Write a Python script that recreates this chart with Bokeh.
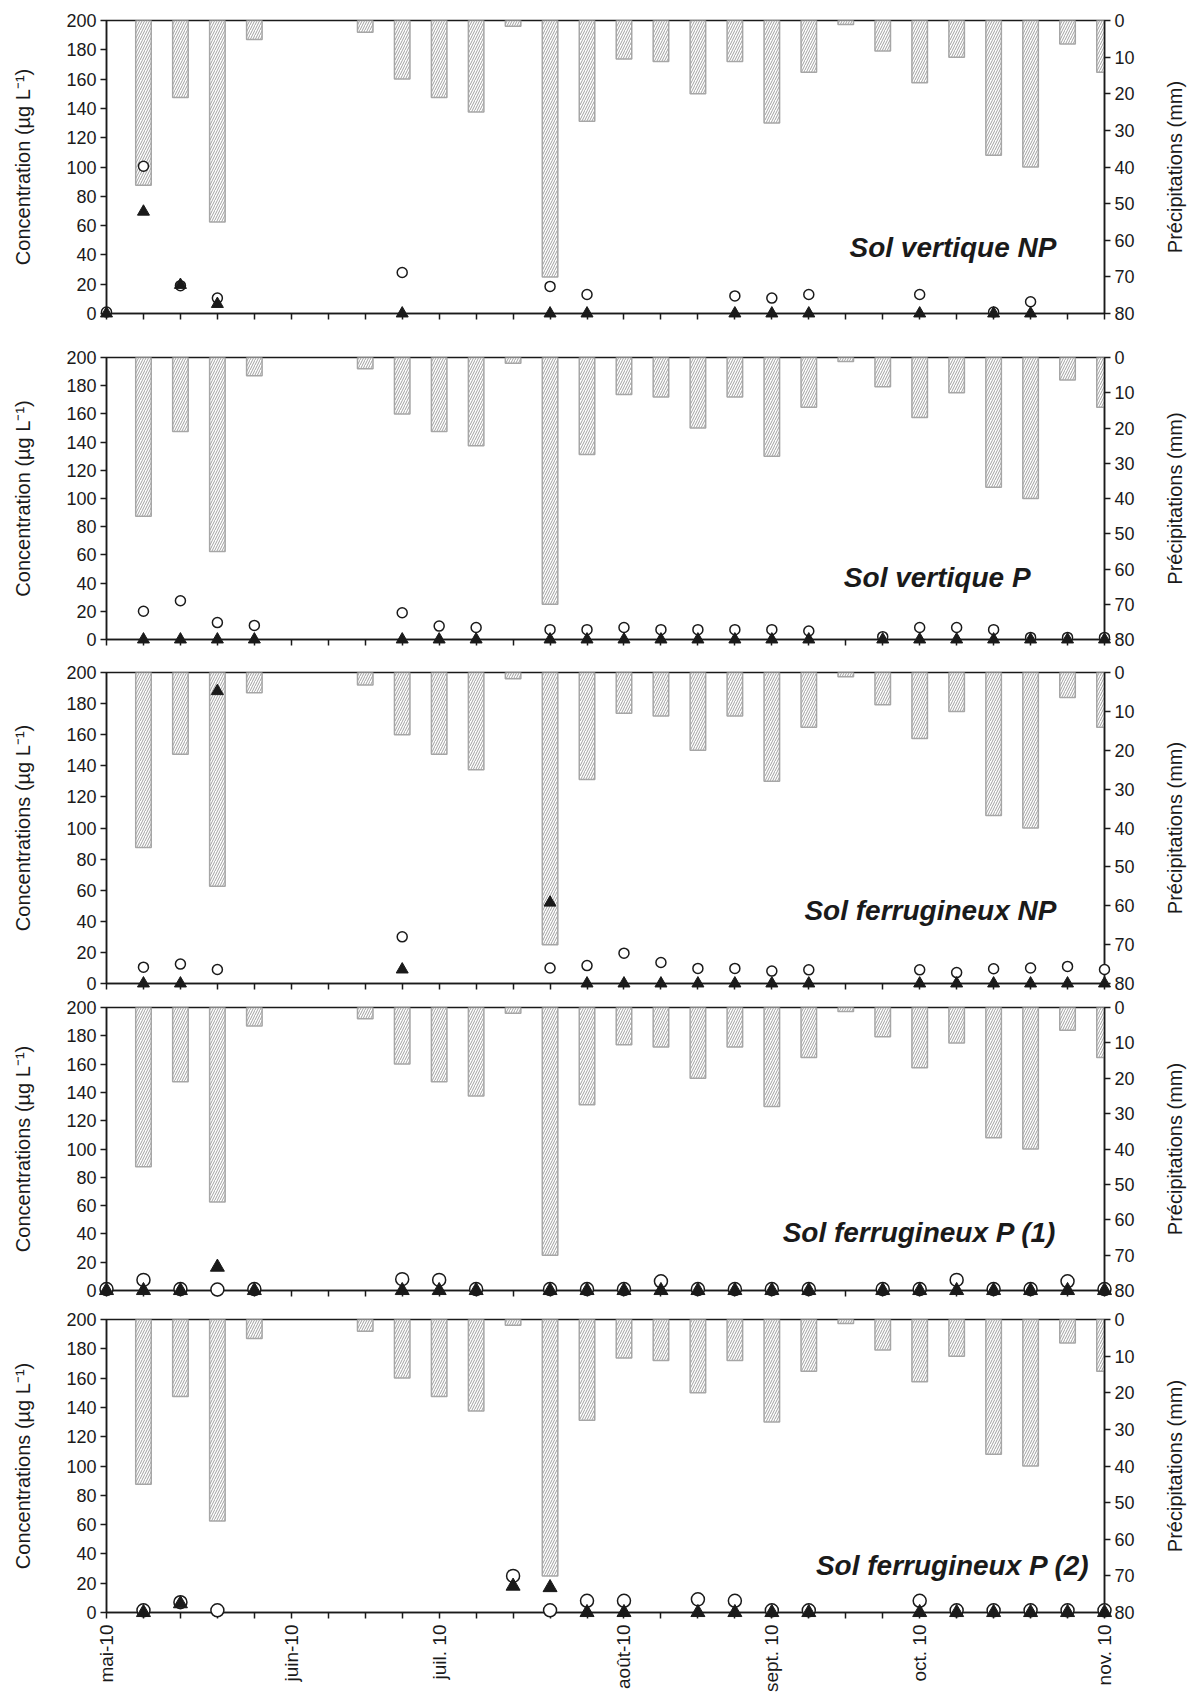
import math
from bokeh.plotting import figure
from bokeh.models import Range1d, LinearAxis, FixedTicker, Label, ColumnDataSource
from bokeh.layouts import column, row
from bokeh.embed import file_html
from bokeh.resources import INLINE

N = None

# ---- data -------------------------------------------------------------
sample_index = list(range(28))
date_labels = {0: "mai-10", 5: "juin-10", 9: "juil. 10", 14: "août-10",
               18: "sept. 10", 22: "oct. 10", 27: "nov. 10"}

precip_mm = [0, 45, 21, 55, 5.2, 0, 0, 3.2, 16, 21, 25, 1.6, 70, 27.5,
             10.5, 11.2, 20, 11.2, 28, 14.1, 1.1, 8.3, 17, 10, 36.8, 40, 6.4, 14.1]

panel_titles = ["Sol vertique NP", "Sol vertique P", "Sol ferrugineux NP",
                "Sol ferrugineux P (1)", "Sol ferrugineux P (2)"]
conc_titles = ["Concentration (µg L⁻¹)", "Concentration (µg L⁻¹)",
               "Concentrations (µg L⁻¹)", "Concentrations (µg L⁻¹)",
               "Concentrations (µg L⁻¹)"]
precip_title = "Précipitations (mm)"

p1_circles = [1, 100.5, 19, 10.5, N, N, N, N, 28, N, N, N, 18.5, 13, N, N, N, 12, 10.5, 13, N, N, 13, N, 1, 8, N, N]
p1_triangles = [0, 69.5, 19.5, 6.5, N, N, N, N, 0, N, N, N, 0, 0, N, N, N, 0, 0, 0, N, N, 0, N, 0, 0, N, N]

p2_circles = [N, 20, 27.5, 12, 10, N, N, N, 19, 9.5, 8.5, N, 7, 7, 8.5, 7, 7, 7, 7, 6, N, 2, 8.5, 8.5, 7, 1.5, 1.5, 1.5]
p2_triangles = [N, 0, 0, 0, 0, N, N, N, 0, 0, 0, N, 0, 0, 0, 0, 0, 0, 0, 0, N, 0, 0, 0, 0, 0, 0, 0]

p3_circles = [N, 10.5, 12.5, 9, N, N, N, N, 30, N, N, N, 10, 11.5, 19.5, 13.5, 9.7, 9.7, 8, 8.8, N, N, 8.8, 7, 9.5, 10, 11, 9]
p3_triangles = [N, 0, 0, 188, N, N, N, N, 9, N, N, N, 52, 0, 0, 0, 0, 0, 0, 0, N, N, 0, 0, 0, 0, 0, 0]

p4_circles = [1, 7.5, 1, 0.7, 1, N, N, N, 8, 7.5, 1, N, 1, 1, 1, 6.5, 1, 1, 1, 1, N, 1, 1, 7.5, 1, 1, 6.5, 1]
p4_triangles = [0, 0, 0, 16.5, 0, N, N, N, 0, 0, 0, N, 0, 0, 0, 0, 0, 0, 0, 0, N, 0, 0, 0, 0, 0, 0, 0]

p5_circles = [N, 1.5, 7, 1.5, N, N, N, N, N, N, N, 25, 1.5, 8, 8, N, 9, 8, 1.5, 1.5, N, N, 8, 1.5, 1.5, 1.5, 1.5, 1.5]
p5_triangles = [N, 0, 6, N, N, N, N, N, N, N, N, 18, 17, 0, 0, N, 0, 0, 0, 0, N, N, 0, 0, 0, 0, 0, 0]

circles_all = [p1_circles, p2_circles, p3_circles, p4_circles, p5_circles]
triangles_all = [p1_triangles, p2_triangles, p3_triangles, p4_triangles, p5_triangles]

# ---- layout / style ---------------------------------------------------
FONT = "Liberation Sans"
INK = "#1a1a1a"
frame_heights = [293, 282, 311, 283, 293]
border_top = [20, 22, 16, 12, 15]
border_bottom = [22, 17, 12, 14, 76]
label_pos = [(25.7, 45), (25.0, 44), (25.7, 47), (25.7, 41), (26.6, 32)]
circle_size = [10, 10, 10, 13, 13]
tri_size = [12, 12, 12, 14, 14]


def pick(values):
    xs, ys = [], []
    for i, v in zip(sample_index, values):
        if v is not None:
            xs.append(i)
            ys.append(v)
    return ColumnDataSource(dict(x=xs, y=ys))


def style_axis(ax, size="18px"):
    ax.axis_line_color = INK
    ax.axis_line_width = 1.5
    ax.major_tick_line_color = INK
    ax.major_tick_line_width = 1.5
    ax.major_tick_out = 6
    ax.major_tick_in = 0
    ax.minor_tick_line_color = None
    ax.major_label_text_font = FONT
    ax.major_label_text_font_size = size
    ax.major_label_text_color = INK
    ax.axis_label_text_font = FONT
    ax.axis_label_text_font_size = "20px"
    ax.axis_label_text_font_style = "normal"
    ax.axis_label_text_color = INK


rows = []
for k in range(5):
    last = (k == 4)
    p = figure(frame_width=998, frame_height=frame_heights[k],
               x_range=Range1d(0, 27), y_range=Range1d(0, 200),
               output_backend="svg", toolbar_location=None,
               min_border_left=106, min_border_right=50,
               min_border_top=border_top[k], min_border_bottom=border_bottom[k])
    p.extra_y_ranges = {"precip": Range1d(80, 0)}
    p.grid.visible = False
    p.background_fill_color = "white"
    p.border_fill_color = "white"
    p.outline_line_color = INK
    p.outline_line_width = 1.5

    # left axis
    yax = p.yaxis[0]
    yax.ticker = FixedTicker(ticks=list(range(0, 201, 20)))
    yax.axis_label = conc_titles[k]
    yax.axis_label_standoff = 29
    yax.major_label_standoff = 4
    style_axis(yax)

    # right axis
    rax = LinearAxis(y_range_name="precip",
                     ticker=FixedTicker(ticks=list(range(0, 81, 10))))
    style_axis(rax)
    rax.major_label_standoff = 4
    p.add_layout(rax, "right")

    # bottom axis
    xax = p.xaxis[0]
    xax.ticker = FixedTicker(ticks=sample_index)
    style_axis(xax)
    if last:
        xax.major_label_overrides = {i: date_labels.get(i, "") for i in sample_index}
        xax.major_label_orientation = math.pi / 2
        xax.major_label_standoff = 6
        xax.major_label_text_font_size = "19px"
    else:
        xax.major_label_overrides = {i: "" for i in sample_index}
        xax.major_label_text_font_size = "0px"
        xax.major_label_standoff = 0

    # precipitation bars hanging from the top
    bx = [i for i, v in zip(sample_index, precip_mm) if v > 0]
    bv = [v for v in precip_mm if v > 0]
    p.vbar(x=bx, top=[0] * len(bx), bottom=bv, width=0.42,
           y_range_name="precip", fill_color="white",
           line_color="#a6a6a6", line_width=1.5,
           hatch_pattern="/", hatch_color="#a0a0a0",
           hatch_scale=5, hatch_weight=1)

    # concentrations
    p.scatter(x="x", y="y", source=pick(circles_all[k]), marker="circle",
              size=circle_size[k], fill_color="white", line_color=INK,
              line_width=1.5, level="overlay")
    p.scatter(x="x", y="y", source=pick(triangles_all[k]), marker="triangle",
              size=tri_size[k], fill_color=INK, line_color=INK,
              line_width=1, level="overlay")

    lx, ly = label_pos[k]
    p.add_layout(Label(x=lx, y=ly, text=panel_titles[k], text_align="right",
                       text_baseline="middle", text_font=FONT,
                       text_font_style="bold italic", text_font_size="28px",
                       text_color=INK))

    # narrow companion figure carrying the right-hand axis title
    side = figure(frame_width=40, frame_height=frame_heights[k],
                  x_range=Range1d(0, 1), y_range=Range1d(0, 1),
                  x_axis_type=None, y_axis_type=None,
                  output_backend="svg", toolbar_location=None,
                  min_border_left=0, min_border_right=0,
                  min_border_top=border_top[k], min_border_bottom=border_bottom[k])
    side.grid.visible = False
    side.outline_line_color = None
    side.background_fill_color = "white"
    side.border_fill_color = "white"
    side.add_layout(Label(x=0.5, y=0.5, text=precip_title, angle=math.pi / 2,
                          text_align="center", text_baseline="middle",
                          text_font=FONT, text_font_size="20px", text_color=INK))
    rows.append(row(p, side, spacing=0))

layout = column(*rows, spacing=0)
open("out.html", "w").write(file_html(layout, INLINE))
